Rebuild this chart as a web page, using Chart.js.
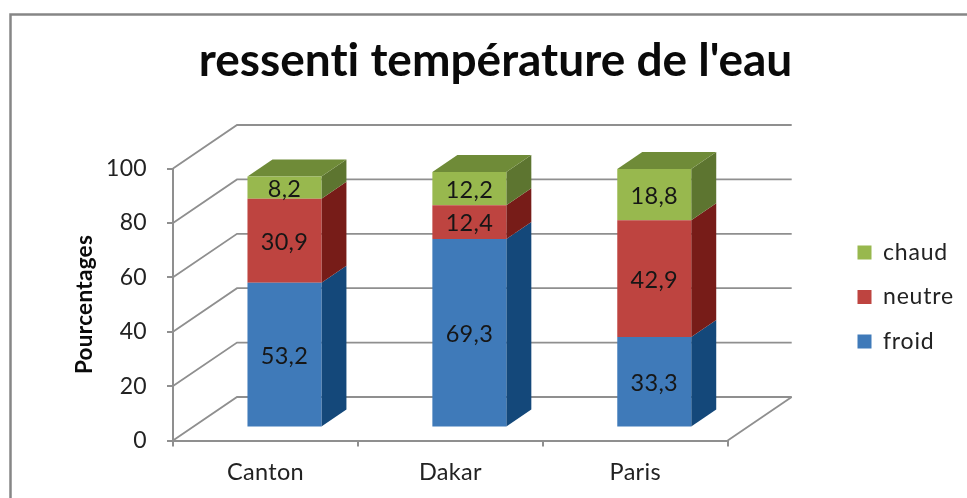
<!DOCTYPE html>
<html><head><meta charset="utf-8">
<style>html,body{margin:0;padding:0;background:#fff}canvas{display:block;filter:blur(0.4px)}</style>
<script src="https://cdn.jsdelivr.net/npm/chart.js@4/dist/chart.umd.min.js"></script>
</head><body><div style="width:967px;height:498px"><canvas id="c"></canvas></div>
<script>
const categories = ['Canton', 'Dakar', 'Paris'];
const froid = [53.2, 69.3, 33.3];
const neutre = [30.9, 12.4, 42.9];
const chaud = [8.2, 12.2, 18.8];
const yTicks = [0, 20, 40, 60, 80, 100];
const titleText = "ressenti température de l'eau";
const yTitle = 'Pourcentages';

const FONT = 'Lato';
const GRID = '#8f8f8f';
const WALL = {x: 64, y: -43.5};
const BAR_SHIFT = {x: 19, y: -13};
const BAR_DEPTH = {x: 25, y: -17};
const shades = [
  {face: '#3f7ab9', side: '#14487a'},
  {face: '#be4440', side: '#771c18'},
  {face: '#98b84e', side: '#5d7530', top: '#6f8b38'}
];

function poly(ctx, pts, fill) {
  ctx.beginPath();
  pts.forEach((p, i) => i ? ctx.lineTo(p[0], p[1]) : ctx.moveTo(p[0], p[1]));
  ctx.closePath();
  ctx.fillStyle = fill;
  ctx.fill();
}

function withSpacing(box, ctx, spacing) {
  if (box._spaced) return;
  box._spaced = true;
  const orig = box.draw;
  box.draw = function (area) {
    const prev = ctx.letterSpacing;
    ctx.letterSpacing = spacing;
    orig.call(this, area);
    ctx.letterSpacing = prev;
  };
}

const scene = {
  id: 'scene',
  afterLayout(chart) {
    const l = chart.legend;
    const w = l.width, h = l.height;
    l.left = 836; l.right = l.left + w; l.top = 219.5; l.bottom = l.top + h;
    const t = chart.titleBlock;
    t.left = 0; t.right = 991;
    withSpacing(t, chart.ctx, '0.01px');
    withSpacing(l, chart.ctx, '0.8px');
  },
  beforeDraw(chart) {
    const ctx = chart.ctx;
    ctx.letterSpacing = '0.3px';
    ctx.save();
    ctx.strokeStyle = '#868686';
    ctx.lineWidth = 2.5;
    ctx.beginPath();
    ctx.moveTo(10.5, 498); ctx.lineTo(10.5, 14.5); ctx.lineTo(967, 14.5);
    ctx.stroke();
    ctx.restore();
  },
  beforeDatasetsDraw(chart) {
    const ctx = chart.ctx, y = chart.scales.y, a = chart.chartArea;
    ctx.save();
    ctx.strokeStyle = GRID;
    ctx.lineWidth = 1.8;
    yTicks.forEach(t => {
      const py = y.getPixelForValue(t);
      ctx.beginPath();
      ctx.moveTo(a.left, py);
      ctx.lineTo(a.left + WALL.x, py + WALL.y);
      ctx.lineTo(a.right + WALL.x, py + WALL.y);
      ctx.stroke();
    });
    const p0 = y.getPixelForValue(0);
    ctx.beginPath();
    ctx.moveTo(a.right, p0);
    ctx.lineTo(a.right + WALL.x, p0 + WALL.y);
    ctx.stroke();
    ctx.restore();

    ctx.save();
    ctx.translate(BAR_SHIFT.x, BAR_SHIFT.y);
    const dx = BAR_DEPTH.x, dy = BAR_DEPTH.y;
    chart.data.datasets.forEach((ds, i) => {
      chart.getDatasetMeta(i).data.forEach(el => {
        const p = el.getProps(['x', 'y', 'base', 'width'], true);
        const r = p.x + p.width / 2, l = p.x - p.width / 2;
        poly(ctx, [[r, p.y], [r + dx, p.y + dy], [r + dx, p.base + dy], [r, p.base]], shades[i].side);
        if (shades[i].top) {
          poly(ctx, [[l, p.y], [l + dx, p.y + dy], [r + dx, p.y + dy], [r, p.y]], shades[i].top);
        }
      });
    });
  },
  afterDatasetsDraw(chart) {
    const ctx = chart.ctx;
    ctx.font = '23.5px ' + FONT;
    ctx.fillStyle = '#161616';
    ctx.textAlign = 'center';
    ctx.textBaseline = 'middle';
    chart.data.datasets.forEach((ds, i) => {
      chart.getDatasetMeta(i).data.forEach((el, j) => {
        const p = el.getProps(['x', 'y', 'base'], true);
        ctx.fillText(String(ds.data[j]).replace('.', ','), p.x, (p.y + p.base) / 2 + 1.5);
      });
    });
    ctx.restore();
  }
};

new Chart(document.getElementById('c'), {
  type: 'bar',
  data: {
    labels: categories,
    datasets: [
      {label: 'froid', data: froid, backgroundColor: shades[0].face},
      {label: 'neutre', data: neutre, backgroundColor: shades[1].face},
      {label: 'chaud', data: chaud, backgroundColor: shades[2].face}
    ].map(d => Object.assign(d, {clip: false, categoryPercentage: 0.4, barPercentage: 1}))
  },
  plugins: [scene],
  options: {
    responsive: true,
    maintainAspectRatio: false,
    animation: false,
    layout: {padding: {left: 0, right: 239.3, top: 0, bottom: 0}},
    plugins: {
      tooltip: {enabled: false},
      title: {
        display: true, text: titleText, color: '#0a0a0a',
        font: {family: FONT, size: 46, weight: 'bold', lineHeight: 1.2},
        padding: {top: 34, bottom: 79.3}
      },
      legend: {
        position: 'chartArea', reverse: true, align: 'start',
        labels: {
          boxWidth: 14, boxHeight: 14, padding: 21.5, color: '#222',
          font: {family: FONT, size: 23}
        }
      }
    },
    scales: {
      x: {
        stacked: true,
        afterFit(s) { s.height = 57.5; },
        grid: {offset: true, drawOnChartArea: false, color: GRID, lineWidth: 2, tickLength: 6},
        border: {color: GRID, width: 2},
        ticks: {color: '#222', padding: 12, font: {family: FONT, size: 23.5}, maxRotation: 0}
      },
      y: {
        stacked: true, min: 0, max: 100,
        afterFit(s) { s.width = 173; },
        afterBuildTicks(s) { s.ticks = yTicks.map(v => ({value: v})); },
        title: {display: true, text: yTitle, color: '#0a0a0a', padding: {top: 71, bottom: 0},
                font: {family: FONT, size: 22.5, weight: 'bold'}},
        grid: {drawOnChartArea: false, color: GRID, lineWidth: 2, tickLength: 6},
        border: {color: GRID, width: 2},
        ticks: {color: '#222', padding: 20, font: {family: FONT, size: 23}}
      }
    }
  }
});
</script></body></html>
